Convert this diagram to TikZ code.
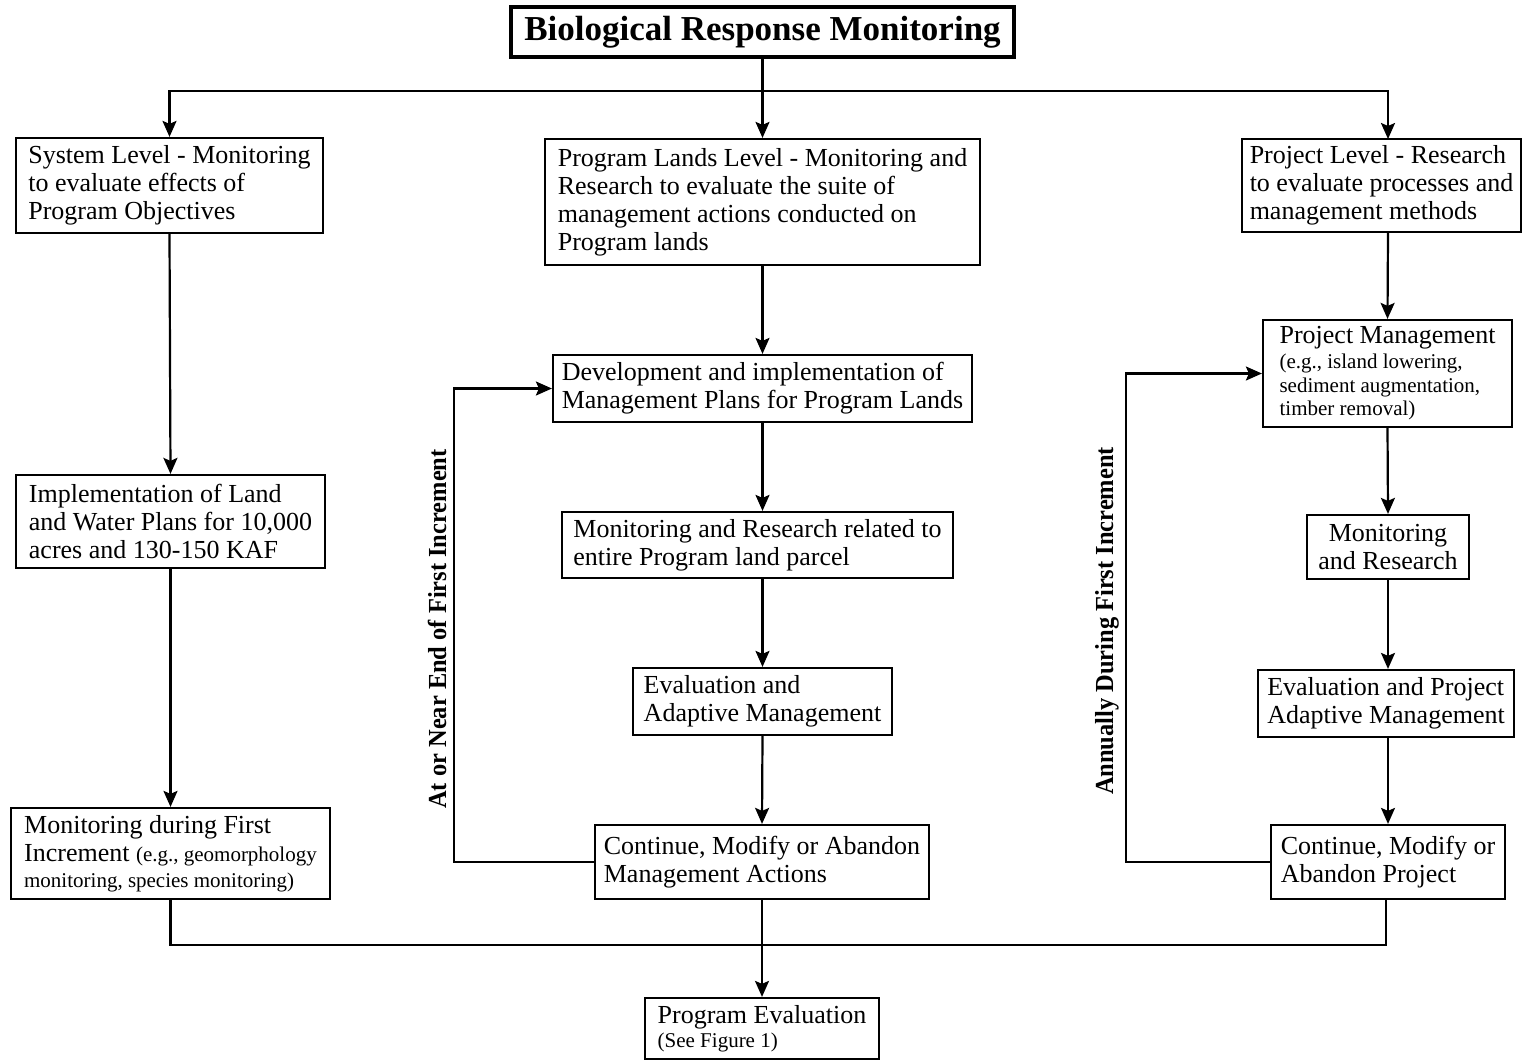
\documentclass[tikz,border=0pt]{standalone}
\usepackage{fontspec}
\setmainfont{Liberation Serif}
\usetikzlibrary{arrows.meta}
\newcommand{\sm}{\fontsize{21}{23.5}\selectfont}
\tikzset{
  box/.style={draw, line width=2.2pt, rectangle, inner xsep=8pt, inner ysep=0pt,
    align=flush left, font=\fontsize{26}{28}\selectfont},
  arr/.style={line width=2.2pt, -{Stealth[length=16pt,width=14pt,inset=3pt]}},
  ln/.style={line width=2.2pt},
  side/.style={rotate=90, font=\fontsize{26}{28}\selectfont\bfseries}
}
\begin{document}
\begin{tikzpicture}[x=1pt,y=-1pt]
\useasboundingbox[fill=white] (0,0) rectangle (1523,1061);
% title
\node[draw, line width=4pt, minimum width=503pt, minimum height=50pt, inner sep=0pt,
  font=\fontsize{35}{38}\selectfont\bfseries] (title) at (762.5,32) {Biological Response Monitoring};
% left column
\node[box, minimum width=307pt, minimum height=95pt] (A1) at (169.5,185.5)
  {System Level - Monitoring\\to evaluate effects of\\Program Objectives};
\node[box, minimum width=309pt, minimum height=93pt] (A2) at (170.5,521.5)
  {Implementation of Land\\and Water Plans for 10,000\\acres and 130-150 KAF};
\node[box, minimum width=319pt, minimum height=91pt] (A3) at (170.5,853.5)
  {Monitoring during First\\Increment {\sm (e.g., geomorphology}\\[-2pt]\sm monitoring, species monitoring)};
% centre column
\node[box, minimum width=435pt, minimum height=126pt] (B1) at (762.5,202)
  {Program Lands Level - Monitoring and\\Research to evaluate the suite of\\management actions conducted on\\Program lands};
\node[box, minimum width=419pt, minimum height=67pt] (B2) at (762.5,388.5)
  {Development and implementation of\\Management Plans for Program Lands};
\node[box, minimum width=391pt, minimum height=66pt] (B3) at (757.5,545)
  {Monitoring and Research related to\\entire Program land parcel};
\node[box, minimum width=259pt, minimum height=67pt] (B4) at (762.5,701.5)
  {Evaluation and\\Adaptive Management};
\node[box, minimum width=334pt, minimum height=74pt] (B5) at (762,862)
  {Continue, Modify or Abandon\\Management Actions};
\node[box, minimum width=234pt, minimum height=61pt] (PE) at (762,1028.5)
  {Program Evaluation\\[-4pt]\sm (See Figure 1)};
% right column
\node[box, minimum width=279pt, minimum height=93pt] (C1) at (1381.5,185.5)
  {Project Level - Research\\to evaluate processes and\\management methods};
\node[box, minimum width=249pt, minimum height=107pt] (C2) at (1387.5,373.5)
  {Project Management\\[-3pt]\sm (e.g., island lowering,\\[-4.5pt]\sm sediment augmentation,\\[-4.5pt]\sm timber removal)};
\node[box, align=center, minimum width=162pt, minimum height=64pt] (C3) at (1388,547)
  {Monitoring\\and Research};
\node[box, minimum width=256pt, minimum height=67pt] (C4) at (1386,703.5)
  {Evaluation and Project\\Adaptive Management};
\node[box, minimum width=234pt, minimum height=74pt] (C5) at (1388,862)
  {Continue, Modify or\\Abandon Project};
% side labels
\node[side] (L1) at (437,629) {\scalebox{0.94}[1]{At or Near End of First Increment}};
\node[side] (L2) at (1107,621) {\scalebox{0.94}[1]{Annually During First Increment}};
% top distribution
\coordinate (hub) at (762.5,91);
\coordinate (cright) at (1388,139);
\draw[ln] (title.south) -- (hub);
\draw[arr] (hub) -| (A1.north);
\draw[arr] (hub) -- (hub |- B1.north);
\draw[arr] (hub) -| (cright);
% left chain
\draw[arr] (A1.south) -- (A2.north);
\draw[arr] (A2.south) -- (A3.north);
% centre chain
\draw[arr] (B1.south) -- (B2.north);
\draw[arr] (B2.south) -- (B2.south |- B3.north);
\draw[arr] (B3.south -| B4.north) -- (B4.north);
\draw[arr] (B4.south) -- (B5.north);
\draw[arr] (B5.west) -- ++(-140,0) |- (B2.west);
% right chain
\draw[arr] (cright |- C1.south) -- (C2.north);
\draw[arr] (C2.south) -- (C3.north);
\draw[arr] (C3.south) -- (C3.south |- C4.north);
\draw[arr] (C3.south |- C4.south) -- (C5.north);
\draw[arr] (C5.west) -- ++(-144,0) |- (C2.west);
% bottom collection
\coordinate (bot) at (762,945);
\draw[ln] (A3.south) |- (bot);
\draw[ln] (C5.south -| 1386,0) |- (bot);
\draw[ln] (B5.south) -- (bot);
\draw[arr] (bot) -- (PE.north);
\end{tikzpicture}
\end{document}
